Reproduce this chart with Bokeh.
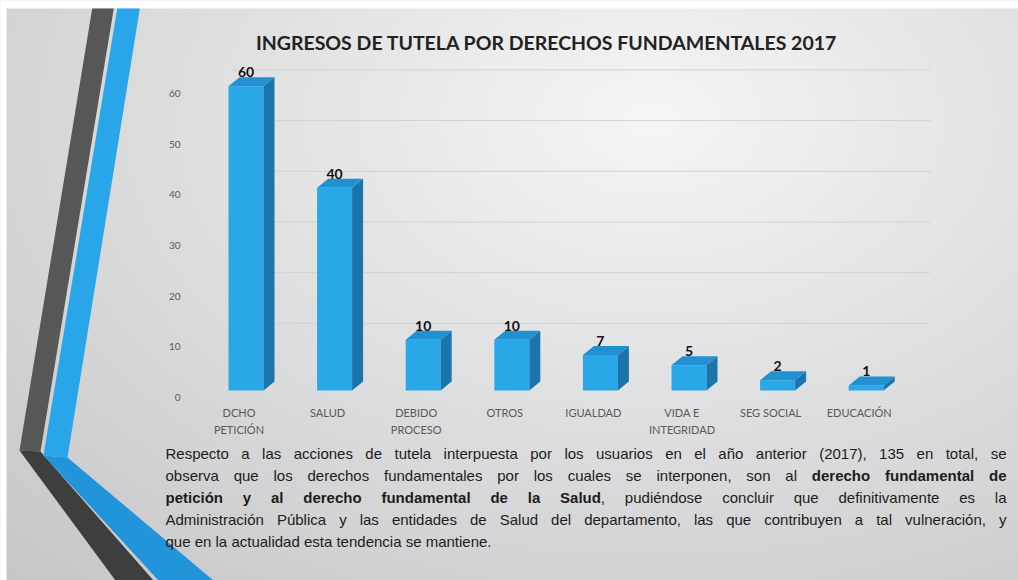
import numpy as np
from bokeh.plotting import figure
from bokeh.models import Range1d, LinearAxis, FixedTicker, Label
from bokeh.core.properties import value
from bokeh.embed import file_html
from bokeh.resources import INLINE

# ---------------- data ----------------
categories = ["DCHO\nPETICIÓN", "SALUD", "DEBIDO\nPROCESO", "OTROS", "IGUALDAD",
              "VIDA E\nINTEGRIDAD", "SEG SOCIAL", "EDUCACIÓN"]
counts = [60, 40, 10, 10, 7, 5, 2, 1]
y_ticks = [0, 10, 20, 30, 40, 50, 60]
title_text = "INGRESOS DE TUTELA  POR DERECHOS FUNDAMENTALES  2017"
paragraph_lines = [
    [("Respecto a las acciones de tutela interpuesta por los usuarios en el año anterior (2017), 135 en total, se", False)],
    [("observa que los derechos fundamentales  por los cuales se interponen, son al ", False),
     ("derecho  fundamental de", True)],
    [("petición y al derecho fundamental de la Salud", True),
     (", pudiéndose concluir que definitivamente es la", False)],
    [("Administración Pública y las entidades de Salud  del departamento, las que contribuyen a tal vulneración, y", False)],
    [("que en la actualidad esta tendencia se mantiene.", False)],
]

# ---------------- layout (pixel geometry of the slide) ----------------
W, H = 1018, 580
OX, OY = 0, 0
X0, XPER = 245.5, 88.6   # pixel of category 0, pixels per category
Y0, YPER = 390.0, 5.07   # pixel of value 0 (front plane), pixels per unit


def X(rx):
    return (rx - X0) / XPER


def Y(ry):
    return (Y0 - ry) / YPER


FRONT, SIDE, TOP = "#2aa7e6", "#1c74ad", "#2390d2"

p = figure(width=W, height=H,
           x_range=Range1d(X(OX), X(OX + W)), y_range=Range1d(Y(OY + H), Y(OY)),
           x_axis_type=None, y_axis_type=None, toolbar_location=None,
           output_backend="svg", min_border=0)
p.outline_line_color = None
p.background_fill_color = "#e6e6e6"
p.border_fill_color = "#ffffff"

# background gradient (slide picture with thin white margin top/left)
cols = np.arange(W) + OX + 0.5
rows = OY + H - 0.5 - np.arange(H)
xx, yy = np.meshgrid(cols, rows)
d = np.sqrt(((xx - 650) / 1.5) ** 2 + (yy - 120) ** 2)
g = 245 - 0.075 * d
white = (xx < 6) | (yy < 8)
img = np.empty((H, W), dtype=np.uint32)
view = img.view(dtype=np.uint8).reshape((H, W, 4))
view[..., 0] = np.where(white, 255, np.clip(g, 0, 255))
view[..., 1] = np.where(white, 255, np.clip(g + 0.5, 0, 255))
view[..., 2] = np.where(white, 255, np.clip(g + 2.5 * yy / 580, 0, 255))
view[..., 3] = 255
p.image_rgba(image=[img], x=X(OX), y=Y(OY + H), dw=X(OX + W) - X(OX), dh=Y(OY) - Y(OY + H))

# decorative stripes
def poly(pts, color):
    p.patch([X(a) for a, b in pts], [Y(b) for a, b in pts], fill_color=color, line_color=None)

poly([(91.7, 8), (113.3, 8), (40, 451), (19, 450)], "#575757")
poly([(19, 450), (40, 451), (153, 580), (115, 580)], "#3e3e3e")
poly([(116.7, 8), (139.3, 8), (67, 457), (43, 455)], "#29a5ea")
poly([(43, 455), (67, 457), (213, 580), (158, 580)], "#2294da")

# back-wall gridlines
back = (Y0 - 373.6) / YPER
gl = [t + back for t in y_ticks if t > 0]
p.segment(x0=X(232), x1=X(930), y0=gl, y1=gl, line_color="#d2d2d2", line_width=1)

# 3D bars
bw, ddx, ddy = 35 / XPER, 11 / XPER, 9 / YPER
idx = list(range(len(counts)))
left = [i - bw / 2 for i in idx]
right = [i + bw / 2 for i in idx]
p.quad(left=left, right=right, bottom=0, top=counts, fill_color=FRONT, line_color=None)
p.patches([[r, r + ddx, r + ddx, r] for r in right],
          [[0, ddy, v + ddy, v] for v in counts], fill_color=SIDE, line_color=None)
p.patches([[l, r, r + ddx, l + ddx] for l, r in zip(left, right)],
          [[v, v, v + ddy, v + ddy] for v in counts], fill_color=TOP, line_color=None)

p.text(x=idx, y=[v + 14 / YPER for v in counts], text=[str(v) for v in counts],
       text_align="center", text_baseline="middle", text_font=value("Lato"),
       text_font_style="bold", text_font_size="14px", text_color="#111111")

# axes
yoff = 7 / YPER
p.extra_y_ranges = {"ax": Range1d(p.y_range.start + yoff, p.y_range.end + yoff)}
yaxis = LinearAxis(y_range_name="ax", ticker=FixedTicker(ticks=y_ticks), fixed_location=X(182),
                   axis_line_color=None, major_tick_line_color=None, minor_tick_line_color=None,
                   major_tick_out=0, major_tick_in=0, major_label_standoff=2,
                   major_label_text_font="Lato", major_label_text_font_size="10px",
                   major_label_text_color="#595959")
p.add_layout(yaxis, "left")

xoff = 7 / XPER
p.extra_x_ranges = {"cat": Range1d(p.x_range.start + xoff, p.x_range.end + xoff)}
xaxis = LinearAxis(x_range_name="cat", ticker=FixedTicker(ticks=idx),
                   major_label_overrides={i: c for i, c in enumerate(categories)},
                   fixed_location=Y(405),
                   axis_line_color=None, major_tick_line_color=None, minor_tick_line_color=None,
                   major_tick_out=0, major_tick_in=0, major_label_standoff=0,
                   major_label_text_font="Lato", major_label_text_font_size="11px",
                   major_label_text_color="#595959", major_label_text_line_height=1.35)
p.add_layout(xaxis, "below")

# title
p.add_layout(Label(x=X(551), y=Y(42), text=title_text, text_align="center",
                   text_baseline="middle", text_font="Lato", text_font_style="bold",
                   text_font_size="19.5px", text_color="#222222"))

# paragraph (justified, Liberation Sans metrics)
REG = dict(zip(" ,.()", [278, 278, 278, 333, 333]))
REG.update({c: 556 for c in "0123456789"})
REG.update(dict(zip("ABCDEFGHIJKLMNOPQRSTUVWXYZ",
                    [667, 667, 722, 722, 667, 611, 778, 722, 278, 500, 667, 556, 833, 722, 778,
                     667, 778, 722, 667, 611, 722, 667, 944, 667, 667, 611])))
REG.update(dict(zip("abcdefghijklmnopqrstuvwxyz",
                    [556, 556, 500, 556, 556, 278, 556, 556, 222, 222, 500, 222, 833, 556, 556,
                     556, 556, 333, 500, 278, 556, 500, 722, 500, 500, 500])))
REG.update({"á": 556, "é": 556, "í": 278, "ó": 556, "ú": 556, "ñ": 556})
BOLD = dict(zip(" ,.()", [278, 278, 278, 333, 333]))
BOLD.update({c: 556 for c in "0123456789"})
BOLD.update(dict(zip("ABCDEFGHIJKLMNOPQRSTUVWXYZ",
                     [722, 722, 722, 722, 667, 611, 778, 722, 278, 556, 722, 611, 833, 722, 778,
                      667, 778, 722, 667, 611, 722, 667, 944, 667, 667, 611])))
BOLD.update(dict(zip("abcdefghijklmnopqrstuvwxyz",
                     [556, 611, 556, 611, 556, 333, 611, 611, 278, 278, 556, 278, 889, 611, 611,
                      611, 611, 389, 556, 333, 611, 556, 778, 556, 556, 500])))
BOLD.update({"á": 556, "é": 556, "í": 278, "ó": 611, "ú": 611, "ñ": 611})


def width(s, bold, fs):
    t = BOLD if bold else REG
    return sum(t.get(ch, 556) for ch in s) * fs / 1000.0


def tokenize(segments):
    words, cur = [], []
    for text, bold in segments:
        parts = text.split(" ")
        for k, part in enumerate(parts):
            if k > 0 and cur:
                words.append(cur)
                cur = []
            if part:
                cur.append((part, bold))
    if cur:
        words.append(cur)
    return words


lines = [tokenize(s) for s in paragraph_lines]
PL, PR = 165, 1006
fs = 15.0
while fs > 10:
    ok = True
    for ln in lines[:-1]:
        tot = sum(width(s, b, fs) for wd in ln for s, b in wd)
        if (PR - PL - tot) / (len(ln) - 1) < 0.2 * fs:
            ok = False
    if ok:
        break
    fs -= 0.25

reg_x, reg_y, reg_t, bold_x, bold_y, bold_t = [], [], [], [], [], []
for li, ln in enumerate(lines):
    tot = sum(width(s, b, fs) for wd in ln for s, b in wd)
    gap = (PR - PL - tot) / (len(ln) - 1) if li < len(lines) - 1 else 0.278 * fs
    xcur = PL
    ry = 453 + 22 * li
    for wd in ln:
        for s, b in wd:
            (bold_x if b else reg_x).append(X(xcur))
            (bold_y if b else reg_y).append(Y(ry))
            (bold_t if b else reg_t).append(s)
            xcur += width(s, b, fs)
        xcur += gap

p.text(x=reg_x, y=reg_y, text=reg_t, text_align="left", text_baseline="middle",
       text_font=value("Liberation Sans"), text_font_size=f"{fs}px", text_color="#1c1c1c")
p.text(x=bold_x, y=bold_y, text=bold_t, text_align="left", text_baseline="middle",
       text_font=value("Liberation Sans"), text_font_style="bold", text_font_size=f"{fs}px",
       text_color="#1c1c1c")

open("out.html", "w").write(file_html(p, INLINE))
